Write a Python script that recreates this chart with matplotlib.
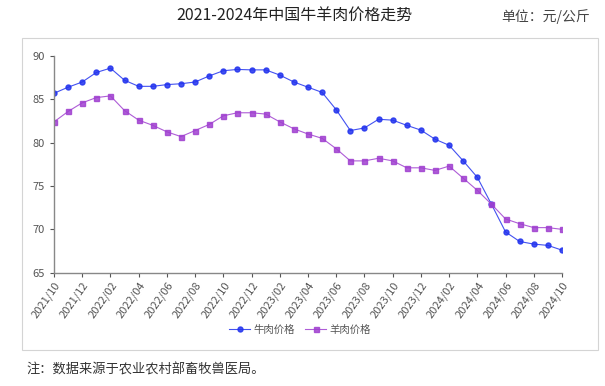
import matplotlib.pyplot as plt
from matplotlib.patches import Rectangle

plt.rcParams['font.family'] = ['Noto Sans CJK SC', 'DejaVu Sans']

months = [f"{2021 + (9 + i) // 12}/{(9 + i) % 12 + 1:02d}" for i in range(37)]

beef = [85.7, 86.4, 87.0, 88.1, 88.6, 87.2, 86.5, 86.5, 86.7, 86.8, 87.0, 87.7,
        88.3, 88.45, 88.4, 88.4, 87.8, 87.0, 86.4, 85.8, 83.8, 81.4, 81.7, 82.7,
        82.6, 82.0, 81.45, 80.4, 79.7, 77.9, 76.0, 72.9, 69.7, 68.6, 68.3, 68.15, 67.6]
mutton = [82.4, 83.6, 84.6, 85.2, 85.4, 83.7, 82.6, 82.0, 81.25, 80.7, 81.4, 82.1,
          83.1, 83.45, 83.45, 83.3, 82.4, 81.6, 81.0, 80.5, 79.3, 77.9, 77.9, 78.2,
          77.9, 77.1, 77.1, 76.8, 77.3, 75.9, 74.5, 72.9, 71.2, 70.65, 70.2, 70.2, 70.0]

blue = "#2233ee"
purple = "#a040d0"

fig = plt.figure(figsize=(6.05, 3.86), dpi=100)

# panel frame
fig.patches.append(Rectangle((22 / 605, 1 - 350 / 386), 576 / 605, 312 / 386,
                             transform=fig.transFigure, fill=False,
                             edgecolor="#d4d4d4", linewidth=0.8))

ax = fig.add_axes([54 / 605, 1 - 272.7 / 386, 508 / 605, (272.7 - 56) / 386])
x = list(range(len(months)))
ax.plot(x, beef, color=blue, linewidth=0.8, marker="o", markersize=3.6,
        label="牛肉价格", alpha=0.85)
ax.plot(x, mutton, color=purple, linewidth=0.8, marker="s", markersize=3.6,
        label="羊肉价格", alpha=0.85)

ax.set_xlim(0, 36)
ax.set_ylim(65, 90)
ax.set_yticks([65, 70, 75, 80, 85, 90])
ax.set_xticks(x[::2])
ax.set_xticklabels(months[::2], rotation=55, ha="right", rotation_mode="anchor")
ax.tick_params(axis="both", colors="#555555", labelsize=8, length=3, width=0.8)
ax.tick_params(axis="x", pad=2)
for side in ["top", "right"]:
    ax.spines[side].set_visible(False)
for side in ["left", "bottom"]:
    ax.spines[side].set_color("#888888")
    ax.spines[side].set_linewidth(1.0)

ax.legend(loc="center", bbox_to_anchor=(300 / 605, 1 - 330 / 386),
          bbox_transform=fig.transFigure, ncol=2, frameon=False,
          fontsize=7.5, handlelength=2, columnspacing=1.0, handletextpad=0.3,
          labelcolor="#555555")

fig.text(294 / 605, 1 - 16 / 386, "2021-2024年中国牛羊肉价格走势", ha="center",
         va="center", fontsize=11.5, color="#222222")
fig.text(590 / 605, 1 - 17 / 386, "单位：元/公斤", ha="right", va="center",
         fontsize=10, color="#444444")
fig.text(26 / 605, 1 - 370 / 386, "注：数据来源于农业农村部畜牧兽医局。", ha="left",
         va="center", fontsize=9.5, color="#333333")

fig.savefig("out.png", dpi=100)
